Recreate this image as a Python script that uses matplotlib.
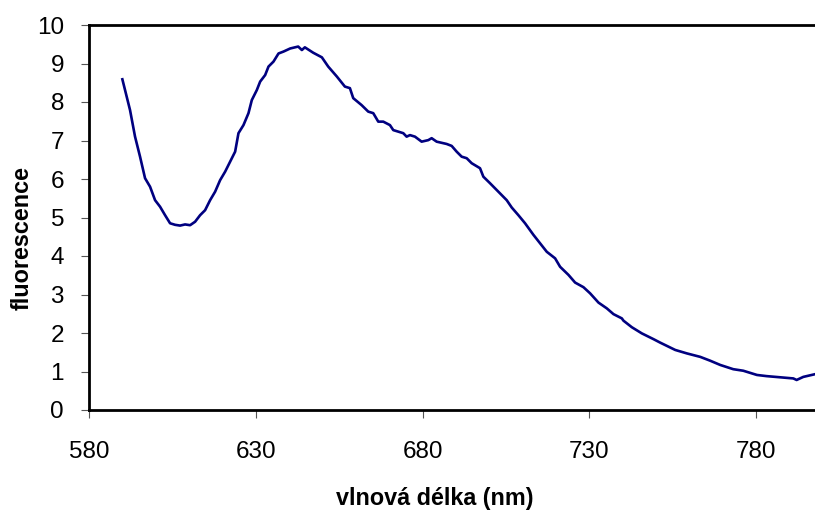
import matplotlib
matplotlib.use("Agg")
import matplotlib.pyplot as plt

plt.rcParams['font.family'] = ['Liberation Sans', 'DejaVu Sans']

# emission spectrum
wavelength = [590.0, 592.3, 593.8, 595.3, 596.8, 598.3, 599.8, 601.3, 602.8, 604.3,
              605.8, 607.3, 608.8, 610.3, 611.8, 613.3, 614.8, 616.3, 617.8, 619.3,
              620.8, 622.3, 623.8, 624.8, 626.3, 627.8, 628.8, 630.3, 631.3, 632.8,
              633.8, 635.3, 636.8, 638.3, 640.3, 642.7, 643.8, 644.7, 647.2, 649.8,
              651.7, 654.3, 656.7, 658.2, 659.2, 661.7, 663.7, 665.2, 666.7, 668.2,
              670.2, 671.2, 674.2, 675.2, 676.2, 677.7, 679.7, 681.7, 682.7, 684.2,
              687.2, 688.7, 690.2, 691.7, 693.2, 694.7, 697.2, 698.2, 700.2, 702.7,
              705.2, 706.7, 708.7, 710.7, 713.2, 715.2, 717.2, 719.7, 721.2, 723.7,
              725.7, 728.2, 730.2, 732.7, 735.2, 737.2, 739.7, 740.2, 742.7, 745.7,
              749.2, 751.2, 755.7, 759.2, 763.2, 766.2, 769.2, 773.1, 776.1, 780.2,
              783.1, 787.1, 791.1, 792.1, 794.1, 797.6, 800.0]
fluorescence = [8.59, 7.79, 7.10, 6.58, 6.02, 5.80, 5.45, 5.28, 5.06, 4.85,
                4.81, 4.79, 4.82, 4.80, 4.89, 5.06, 5.19, 5.45, 5.67, 5.97,
                6.19, 6.45, 6.71, 7.19, 7.40, 7.71, 8.05, 8.31, 8.53, 8.70,
                8.92, 9.05, 9.26, 9.31, 9.39, 9.44, 9.35, 9.42, 9.28, 9.16,
                8.92, 8.66, 8.40, 8.36, 8.10, 7.92, 7.75, 7.71, 7.49, 7.49,
                7.40, 7.27, 7.19, 7.10, 7.14, 7.10, 6.97, 7.01, 7.06, 6.97,
                6.91, 6.86, 6.71, 6.58, 6.54, 6.41, 6.28, 6.06, 5.89, 5.67,
                5.45, 5.26, 5.06, 4.85, 4.55, 4.33, 4.11, 3.94, 3.72, 3.51,
                3.31, 3.19, 3.03, 2.79, 2.64, 2.49, 2.38, 2.32, 2.15, 1.99,
                1.84, 1.75, 1.56, 1.47, 1.38, 1.28, 1.17, 1.06, 1.02, 0.91,
                0.88, 0.85, 0.82, 0.78, 0.86, 0.93, 0.96]

x_ticks = [580, 630, 680, 730, 780]
y_ticks = list(range(0, 11))

fig = plt.figure(figsize=(8.15, 5.12), dpi=100)
ax = fig.add_axes([89 / 815, 102 / 512, 734 / 815, 385 / 512])

ax.plot(wavelength, fluorescence, color='#000080', linewidth=1.9, clip_on=False)

ax.set_xlim(580, 800)
ax.set_ylim(0, 10)
ax.set_xticks(x_ticks)
ax.set_yticks(y_ticks)
ax.tick_params(axis='both', direction='out', length=6, width=0.8,
               color='#555555', labelsize=17.5)
ax.tick_params(axis='x', pad=16)
ax.tick_params(axis='y', pad=12)

for side in ['left', 'bottom', 'top']:
    ax.spines[side].set_linewidth(2)
    ax.spines[side].set_color('black')
ax.spines['right'].set_visible(False)

fig.text(435 / 815, 1 - 499 / 512, 'vlnová délka (nm)', fontsize=16.8,
         fontweight='bold', ha='center', va='center')
fig.text(22 / 815, 1 - 238 / 512, 'fluorescence', fontsize=16.8,
         fontweight='bold', ha='center', va='center', rotation=90)

fig.savefig('out.png', dpi=100)
